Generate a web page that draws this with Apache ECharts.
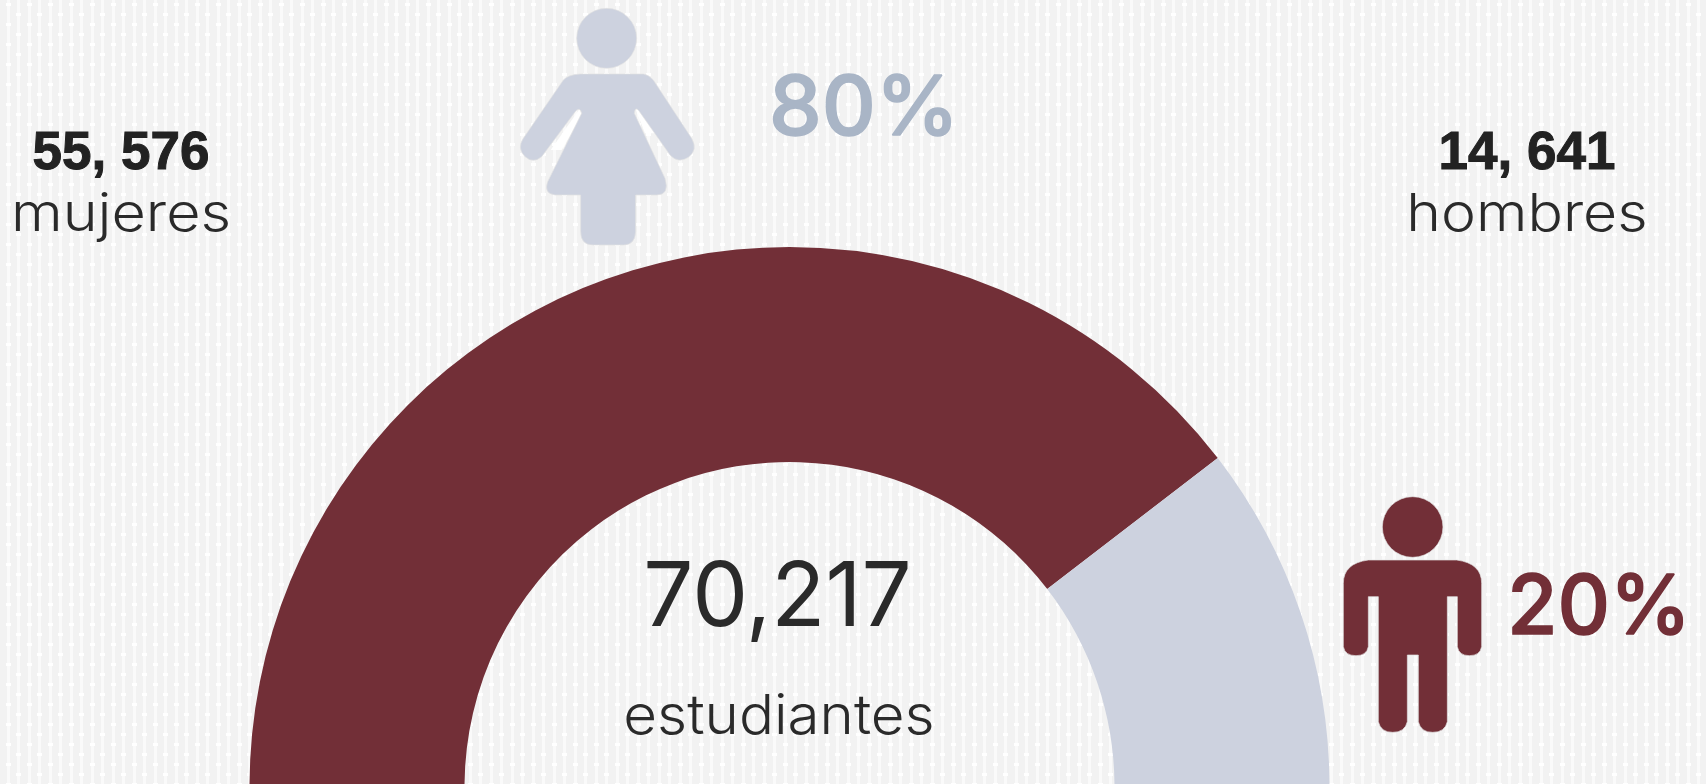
<!DOCTYPE html>
<html><head><meta charset="utf-8">
<style>html,body{margin:0;padding:0;background:#f3f3f3}#c{width:1706px;height:784px}</style>
<script src="https://cdn.jsdelivr.net/npm/echarts@6/dist/echarts.min.js"></script>
</head><body><div id="c"></div>
<script>
const categories = ['mujeres', 'hombres'];
const students = [55576, 14641];
const countLabels = ['55, 576', '14, 641'];
const shareLabels = ['80%', '20%'];
const totalLabel = '70,217';
const totalCaption = 'estudiantes';

const MAROON = '#722f37', PALE = '#cdd2df';
const womanBody = 'M300 222 L490 222 Q505 224 520 240 L635 415 Q655 450 625 472 Q595 492 570 465 L475 330 Q465 320 463 340 L555 535 Q570 585 530 585 L467 585 L467 695 Q465 735 430 735 L340 735 Q302 735 302 695 L302 585 L225 585 Q190 580 203 545 L305 340 Q300 320 288 332 L185 470 Q160 492 135 470 Q110 445 130 415 L250 240 Q265 224 300 222 Z';
const womanHead = 'M380 25 A90 90 0 1 1 379.9 25 Z';
const manBody = 'M205 240 L470 240 Q545 250 545 310 L545 500 Q540 527 508 527 Q477 527 472 500 L472 350 L442 350 L442 725 Q435 757 398 757 Q362 757 355 725 L355 525 L322 525 L322 725 Q315 757 278 757 Q242 757 235 725 L235 350 L205 350 L205 500 Q200 527 168 527 Q135 527 130 500 L130 310 Q130 250 205 240 Z';
const manHead = 'M338 50 A91 91 0 1 1 337.9 50 Z';

[['womanBody', womanBody], ['womanHead', womanHead], ['manBody', manBody], ['manHead', manHead]]
  .forEach(([n, d]) => echarts.graphic.registerShape(n, echarts.graphic.extendPath(d)));

function makeTile() {
  const t = document.createElement('canvas'); t.width = 21; t.height = 20;
  const g = t.getContext('2d');
  g.fillStyle = '#f2f2f2'; g.fillRect(0, 0, 21, 20);
  g.fillStyle = '#fafafa'; g.fillRect(7, 0, 3, 20); g.fillRect(17, 0, 3, 20);
  g.fillStyle = '#ffffff';
  g.fillRect(6, 3, 5, 3); g.fillRect(16, 13, 5, 3);
  return t;
}
function txt(text, cx, baseline, size, weight, fill, family, sx, k, extra) {
  return { type: 'text', silent: true, x: cx, y: baseline - k * size, scaleX: sx,
    style: Object.assign({ text, x: 0, y: 0, align: 'center', verticalAlign: 'top',
      fontSize: size, fontWeight: weight, fontFamily: family, fill }, extra || {}) };
}
function icon(type, ox, oy, fill) {
  return { type, silent: true, x: ox, y: oy, scaleX: 1/3, scaleY: 1/3,
    style: { fill, stroke: '#e2e2e2', lineWidth: 2 } };
}
function gap(points) {
  return { type: 'polygon', silent: true, x: 480, y: 0, scaleX: 1/3, scaleY: 1/3,
    shape: { points }, style: { fill: '#ffffff' } };
}
const chart = echarts.init(document.getElementById('c'), null, { renderer: 'canvas', width: 1706, height: 784 });
chart.setOption({
  animation: false,
  backgroundColor: { image: makeTile(), repeat: 'repeat' },
  series: [{
    type: 'pie', silent: true,
    center: [789.5, 787], radius: [325, 540],
    startAngle: 180, endAngle: 0, clockwise: true,
    label: { show: false }, labelLine: { show: false },
    data: categories.map((name, i) => ({ name, value: students[i],
      itemStyle: { color: i === 0 ? MAROON : PALE } }))
  }],
  graphic: { elements: [
    gap([[298, 328], [306, 345], [245, 450], [212, 450]]),
    gap([[467, 328], [495, 400], [530, 400], [477, 330]]),
    icon('womanBody', 480, 0, PALE), icon('womanHead', 480, 0, PALE),
    icon('manBody', 1300, 480, MAROON), icon('manHead', 1300, 480, MAROON),
    txt(shareLabels[0], 864, 137, 83, 500, '#a9b5c6', 'Inter', 1.01, 0.82, { stroke: '#a9b5c6', lineWidth: 1.5 }),
    txt(shareLabels[1], 1599, 636, 83, 500, MAROON, 'Inter', 0.98, 0.82, { stroke: MAROON, lineWidth: 1.5 }),
    txt(countLabels[0], 121, 169, 53, 700, '#222222', 'Liberation Sans', 1, 0.77, { stroke: '#222222', lineWidth: 1 }),
    txt(categories[0], 121, 232, 52, 300, '#2a2a2a', 'Inter', 1.14, 0.82),
    txt(countLabels[1], 1527, 169, 53, 700, '#222222', 'Liberation Sans', 1, 0.77, { stroke: '#222222', lineWidth: 1 }),
    txt(categories[1], 1527, 232, 52, 300, '#2a2a2a', 'Inter', 1.134, 0.82),
    txt(totalLabel, 777.5, 626, 90, 400, '#2a2a2a', 'Inter', 0.985, 0.8),
    txt(totalCaption, 779, 735, 55, 300, '#2a2a2a', 'Inter', 1.06, 0.82)
  ] }
});
</script></body></html>
